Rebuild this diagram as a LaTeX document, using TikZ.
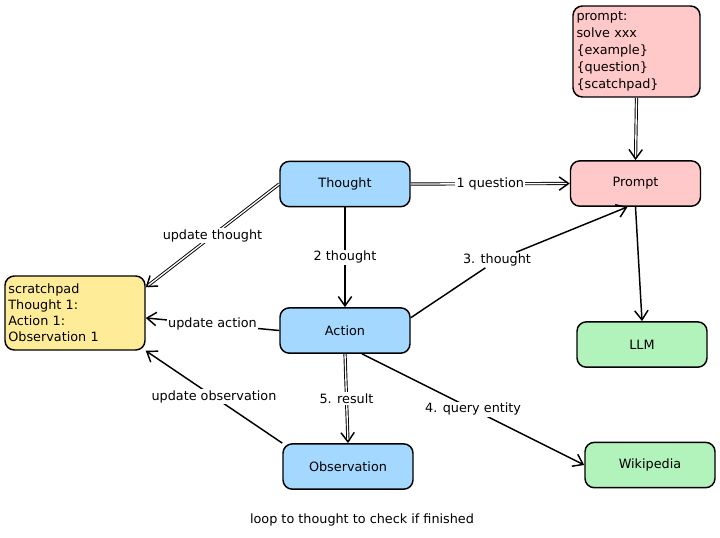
\documentclass[tikz,border=0pt]{standalone}
\usepackage{fontspec}
\setmainfont{DejaVu Sans}
\usetikzlibrary{arrows.meta}
\definecolor{boxblue}{HTML}{A5D8FF}
\definecolor{boxpink}{HTML}{FFC9C9}
\definecolor{boxgreen}{HTML}{B2F2BB}
\definecolor{boxyellow}{HTML}{FFEC99}
\newcommand{\diagfont}{\fontsize{9.6pt}{12pt}\selectfont}
\tikzset{
    % boxes of the flow
    box/.style={draw,line width=1.1pt,rounded corners=7pt,
        minimum width=97.5pt,minimum height=34pt,font=\diagfont},
    notebox/.style={box,align=left,inner xsep=2.5pt},
    lbl/.style={fill=white,inner sep=1pt,font=\diagfont},
    flow/.style={line width=1.1pt,-{Straight Barb[length=7pt,width=10pt,line width=1.1pt]}},
    dbl/.style={flow,double,double distance=1pt,line width=0.7pt}
}
\begin{document}
\begin{tikzpicture}[x=0.75pt,y=-0.75pt]
    \useasboundingbox (0,0) rectangle (720,537);
    \node[notebox,fill=boxpink,minimum width=95.25pt,minimum height=68.25pt,text width=90pt,
        execute at begin node=\setlength{\baselineskip}{12.75pt}] (tpl) at (636.5,51.5)
        {prompt:\\solve xxx\\\{example\}\\\{question\}\\\{scatchpad\}};
    \node[box,fill=boxpink] (prompt) at (635.5,183.5) {Prompt};
    \node[box,fill=boxblue] (thought) at (345,184) {Thought};
    \node[box,fill=boxblue] (action) at (345,330.5) {Action};
    \node[box,fill=boxblue] (obs) at (348,466.5) {Observation};
    \node[box,fill=boxgreen] (llm) at (642,344.5) {LLM};
    \node[box,fill=boxgreen] (wiki) at (650,465) {Wikipedia};
    \node[notebox,fill=boxyellow,minimum width=105pt,minimum height=55.5pt,text width=100pt,
        execute at begin node=\setlength{\baselineskip}{12pt}] (scratch) at (75,313)
        {scratchpad\\Thought 1:\\Action 1:\\Observation 1};
    \node[lbl,fill=none] (q3) at (497,260) {3. thought};
    \node[font=\diagfont] (loop) at (362,520) {loop to thought to check if finished};

    \draw[dbl] (tpl.south) -- (prompt.north);
    \draw[dbl] (thought.east) -- node[lbl] {1 question} (prompt.west);
    \draw[flow] (prompt.south) -- (llm.north);
    \draw[dbl] (thought.west) -- node[lbl] {update thought} (scratch.20);
    \draw[flow] (thought.south) -- node[lbl] {2 thought} (action.north);
    \draw[flow] (action.11) -- (q3) -- ([xshift=-6pt]prompt.south);
    \draw[flow] (action.west) -- node[lbl] {update action} (scratch.-4);
    \draw[dbl] (action.south) -- node[lbl] {5. result} (obs.north);
    \draw[flow] ([xshift=12.75pt]action.south) -- node[lbl] {4. query entity} (wiki.west);
    \draw[flow] (obs.north west) -- node[lbl] {update observation} (scratch.south east);
\end{tikzpicture}
\end{document}
